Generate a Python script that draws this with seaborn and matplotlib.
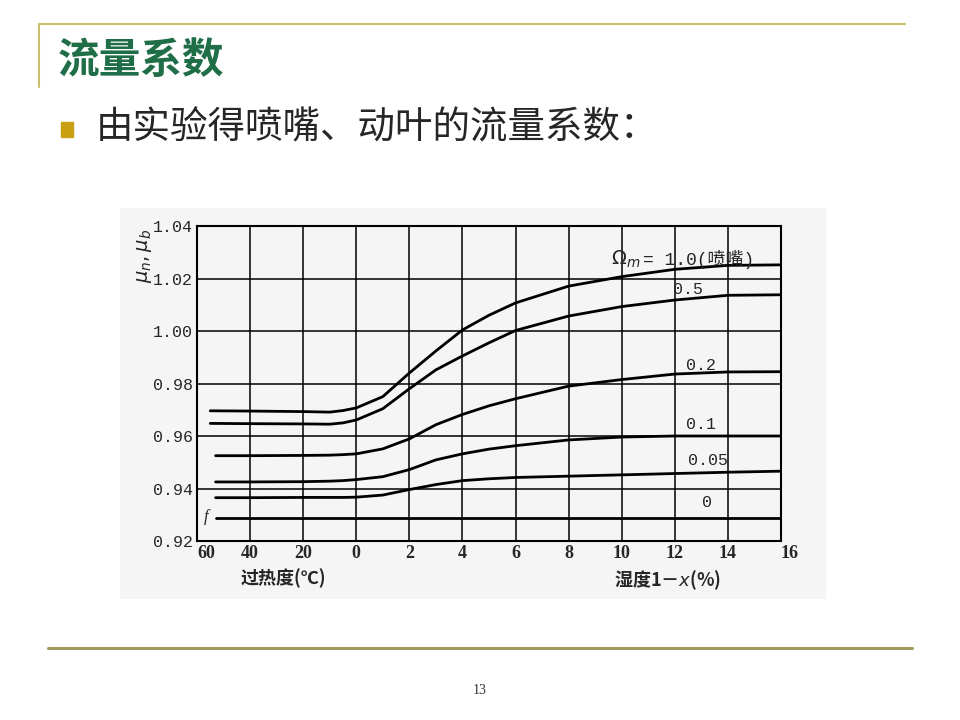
import numpy as np
import pandas as pd
import seaborn as sns
import matplotlib.pyplot as plt
from matplotlib.patches import Rectangle
from matplotlib.lines import Line2D

# x: superheat written as negative (deg C), wetness 1-x as positive (%)
s_top = [-55, -40, -20, -10, -5, 0, 1, 2, 3, 4, 5, 6, 8, 10, 12, 14, 16]
s_mid = [-53, -40, -20, -10, -5, 0, 1, 2, 3, 4, 5, 6, 8, 10, 12, 14, 16]
s_zero = [-53, 16]

mu_10 = [0.9696, 0.9695, 0.9693, 0.9691, 0.9697, 0.9707, 0.9750, 0.9840, 0.9924,
         1.0004, 1.0060, 1.0107, 1.0171, 1.0207, 1.0235, 1.0250, 1.0252]
mu_05 = [0.9648, 0.9647, 0.9646, 0.9645, 0.9650, 0.9661, 0.9704, 0.9780, 0.9852,
         0.9905, 0.9955, 1.0002, 1.0057, 1.0093, 1.0118, 1.0136, 1.0138]
mu_02 = [0.9525, 0.9525, 0.9526, 0.9527, 0.9529, 0.9532, 0.9551, 0.9589, 0.9643,
         0.9682, 0.9715, 0.9742, 0.9790, 0.9815, 0.9836, 0.9844, 0.9845]
mu_01 = [0.9425, 0.9425, 0.9426, 0.9428, 0.9430, 0.9434, 0.9445, 0.9472, 0.9509,
         0.9532, 0.9550, 0.9563, 0.9585, 0.9596, 0.9600, 0.9600, 0.9600]
mu_005 = [0.9365, 0.9365, 0.9366, 0.9366, 0.9366, 0.9367, 0.9375, 0.9396, 0.9415,
          0.9430, 0.9437, 0.9442, 0.9447, 0.9452, 0.9457, 0.9462, 0.9466]
mu_0 = [0.9288, 0.9288]

x_ticks = [-60, -40, -20, 0, 2, 4, 6, 8, 10, 12, 14, 16]
x_labels = ['60', '40', '20', '0', '2', '4', '6', '8', '10', '12', '14', '16']
y_ticks = [0.92, 0.94, 0.96, 0.98, 1.00, 1.02, 1.04]
y_labels = ['0.92', '0.94', '0.96', '0.98', '1.00', '1.02', '1.04']

curve_labels = ['= 1.0(喷嘴)', '0.5', '0.2', '0.1', '0.05', '0']
label_s = [10.8, 12.5, 13.0, 13.0, 13.25, 13.2]
label_mu = [1.0274, 1.0160, 0.9868, 0.9642, 0.9508, 0.9348]

df = pd.concat([
    pd.DataFrame({'s': s_top, 'mu': mu_10, 'curve': '1.0'}),
    pd.DataFrame({'s': s_top, 'mu': mu_05, 'curve': '0.5'}),
    pd.DataFrame({'s': s_mid, 'mu': mu_02, 'curve': '0.2'}),
    pd.DataFrame({'s': s_mid, 'mu': mu_01, 'curve': '0.1'}),
    pd.DataFrame({'s': s_mid, 'mu': mu_005, 'curve': '0.05'}),
    pd.DataFrame({'s': s_zero, 'mu': mu_0, 'curve': '0'}),
])

sns.set_style('white')
plt.rcParams['font.family'] = ['Noto Sans CJK SC', 'DejaVu Sans']

fig = plt.figure(figsize=(9.6, 7.2), dpi=100)
W, H = 960, 720

# scanned picture background
fig.add_artist(Rectangle((120 / W, 1 - 598 / H), 705 / W, 390 / H,
                         transform=fig.transFigure, color='#f5f5f5', zorder=0))

ax = fig.add_axes([197 / W, 1 - 541 / H, 584 / W, 315 / H])
ax.set_facecolor('#f5f5f5')


def fwd(s):
    s = np.asarray(s, dtype=float)
    return np.where(s < 0, s / 20.0, s / 2.0)


def inv(u):
    u = np.asarray(u, dtype=float)
    return np.where(u < 0, u * 20.0, u * 2.0)


ax.set_xscale('function', functions=(fwd, inv))
sns.lineplot(data=df, x='s', y='mu', units='curve', estimator=None,
             color='black', lw=2.0, ax=ax)

ax.set_xlim(-60, 16)
ax.set_ylim(0.92, 1.04)
ax.set_xticks(x_ticks)
ax.set_xticklabels(x_labels, family='Liberation Serif', fontweight='bold', fontsize=13)
ax.xaxis.set_minor_locator(plt.NullLocator())
ax.get_xticklabels()[0].set_ha('left')
ax.get_xticklabels()[-1].set_ha('left')
ax.set_yticks(y_ticks)
ax.set_yticklabels(y_labels, family='Liberation Mono', fontsize=12)
ax.tick_params(length=0, pad=3)
ax.grid(True, color='black', lw=1.1)
for sp in ax.spines.values():
    sp.set_color('black')
    sp.set_linewidth(1.5)
ax.set_xlabel('')
ax.set_ylabel('')

for txt, xs, ys in zip(curve_labels, label_s, label_mu):
    ax.text(xs, ys, txt, ha='left' if txt.startswith('=') else 'center', va='center',
            fontsize=13 if txt.startswith('=') else 12,
            family=['Liberation Mono', 'Noto Sans CJK SC'])
ax.text(10.7, 1.0272, r'$\Omega_m$', ha='right', va='center', fontsize=14)
ax.text(-56.5, 0.9290, 'f', fontsize=12, style='italic', family='Liberation Serif',
        ha='center', va='center')

fig.text(143 / W, 1 - 256 / H, r'$\mu_n,\mu_b$', rotation=90, fontsize=14,
         ha='center', va='center')
fig.text(283 / W, 1 - 578 / H, '过热度(℃)', fontsize=13, fontweight='bold',
         ha='center', va='center')
fig.text(667 / W, 1 - 580 / H, '湿度1－$x$(%)', fontsize=13, fontweight='bold',
         ha='center', va='center')

# slide decoration
fig.add_artist(Line2D([40 / W, 905 / W], [1 - 24 / H] * 2, transform=fig.transFigure,
                      color='#cdbb6e', lw=1.5))
fig.add_artist(Line2D([39 / W, 39 / W], [1 - 24 / H, 1 - 87 / H], transform=fig.transFigure,
                      color='#cdbb6e', lw=1.5))
fig.add_artist(Line2D([48 / W, 912 / W], [1 - 648 / H] * 2, transform=fig.transFigure,
                      color='#a39b5c', lw=2.2))
fig.text(58 / W, 1 - 61 / H, '流量系数', fontsize=30, fontweight='bold',
         color='#1f6e48', ha='left', va='center')
fig.add_artist(Rectangle((61 / W, 1 - 137 / H), 12 / W, 15 / H,
                         transform=fig.transFigure, color='#c9a012'))
fig.text(96 / W, 1 - 128 / H, '由实验得喷嘴、动叶的流量系数：', fontsize=27,
         ha='left', va='center')
fig.text(480 / W, 1 - 690 / H, '13', fontsize=10, family='Liberation Serif',
         ha='center', va='center', color='#333333')

fig.savefig('out.png', dpi=100, facecolor='white')
